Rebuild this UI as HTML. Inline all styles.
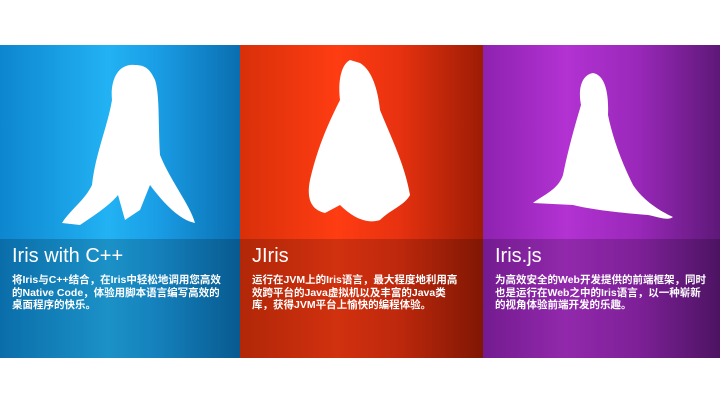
<!DOCTYPE html>
<html><head><meta charset="utf-8"><style>
body{margin:0;width:720px;height:400px;background:#fff;overflow:hidden;font-family:"Liberation Sans","Noto Sans CJK SC",sans-serif}
.p{position:absolute;top:45px;height:313px;overflow:hidden}
.cap{position:absolute;left:0;right:0;top:194px;bottom:0;background:rgba(0,0,0,0.18)}
.t{position:absolute;left:12px;top:200px;color:#fff;font-size:20px}
.d{position:absolute;left:12px;top:229px;width:212px;color:#fff;font-size:10.5px;font-weight:bold;line-height:12.5px}
svg{position:absolute;left:0;top:0}
</style></head><body>
<div class="p" style="left:0;width:240px;background:linear-gradient(90deg,#0d86cf 0%,#22b2f3 45%,#1a9ee6 65%,#0a6eb0 100%)">
<svg width="240" height="200"><path d="M135 20 C118 18 110 35 112 55 C108 80 95 110 92 140 C85 155 70 165 62 178 L80 180 C95 170 110 160 118 150 L125 175 L140 165 L150 140 C165 160 180 175 195 178 C190 160 170 135 160 110 C158 80 160 50 155 35 C150 24 145 20 135 20Z" fill="#fff"/></svg>
<div class="cap"></div>
<div class="t">Iris with C++</div>
<div class="d">将Iris与C++结合，在Iris中轻松地调用您高效的Native Code，体验用脚本语言编写高效的桌面程序的快乐。</div>
</div>
<div class="p" style="left:240px;width:243px;background:linear-gradient(90deg,#d8300a 0%,#ff3c12 40%,#e83210 65%,#9c1c04 100%)">
<svg width="243" height="200"><path d="M110 15 C100 20 98 40 100 55 C90 75 78 100 70 135 C66 155 72 165 85 168 L100 160 C110 170 125 180 140 175 C150 165 165 160 170 150 C165 120 150 90 140 65 C138 45 132 25 120 18 Z" fill="#fff"/></svg>
<div class="cap"></div>
<div class="t">JIris</div>
<div class="d">运行在JVM上的Iris语言，最大程度地利用高效跨平台的Java虚拟机以及丰富的Java类库，获得JVM平台上愉快的编程体验。</div>
</div>
<div class="p" style="left:483px;width:237px;background:linear-gradient(90deg,#8e22b0 0%,#b232d2 35%,#9a28ba 65%,#5e1878 100%)">
<svg width="237" height="200"><path d="M110 28 C98 30 95 45 98 60 C92 80 85 105 80 130 C75 145 60 150 50 158 L90 160 C110 165 140 168 165 170 C175 172 185 176 190 172 C175 165 160 155 150 140 C140 120 130 95 125 70 C126 48 122 30 110 28 Z" fill="#fff"/></svg>
<div class="cap"></div>
<div class="t">Iris.js</div>
<div class="d">为高效安全的Web开发提供的前端框架，同时也是运行在Web之中的Iris语言，以一种崭新的视角体验前端开发的乐趣。</div>
</div>
</body></html>
